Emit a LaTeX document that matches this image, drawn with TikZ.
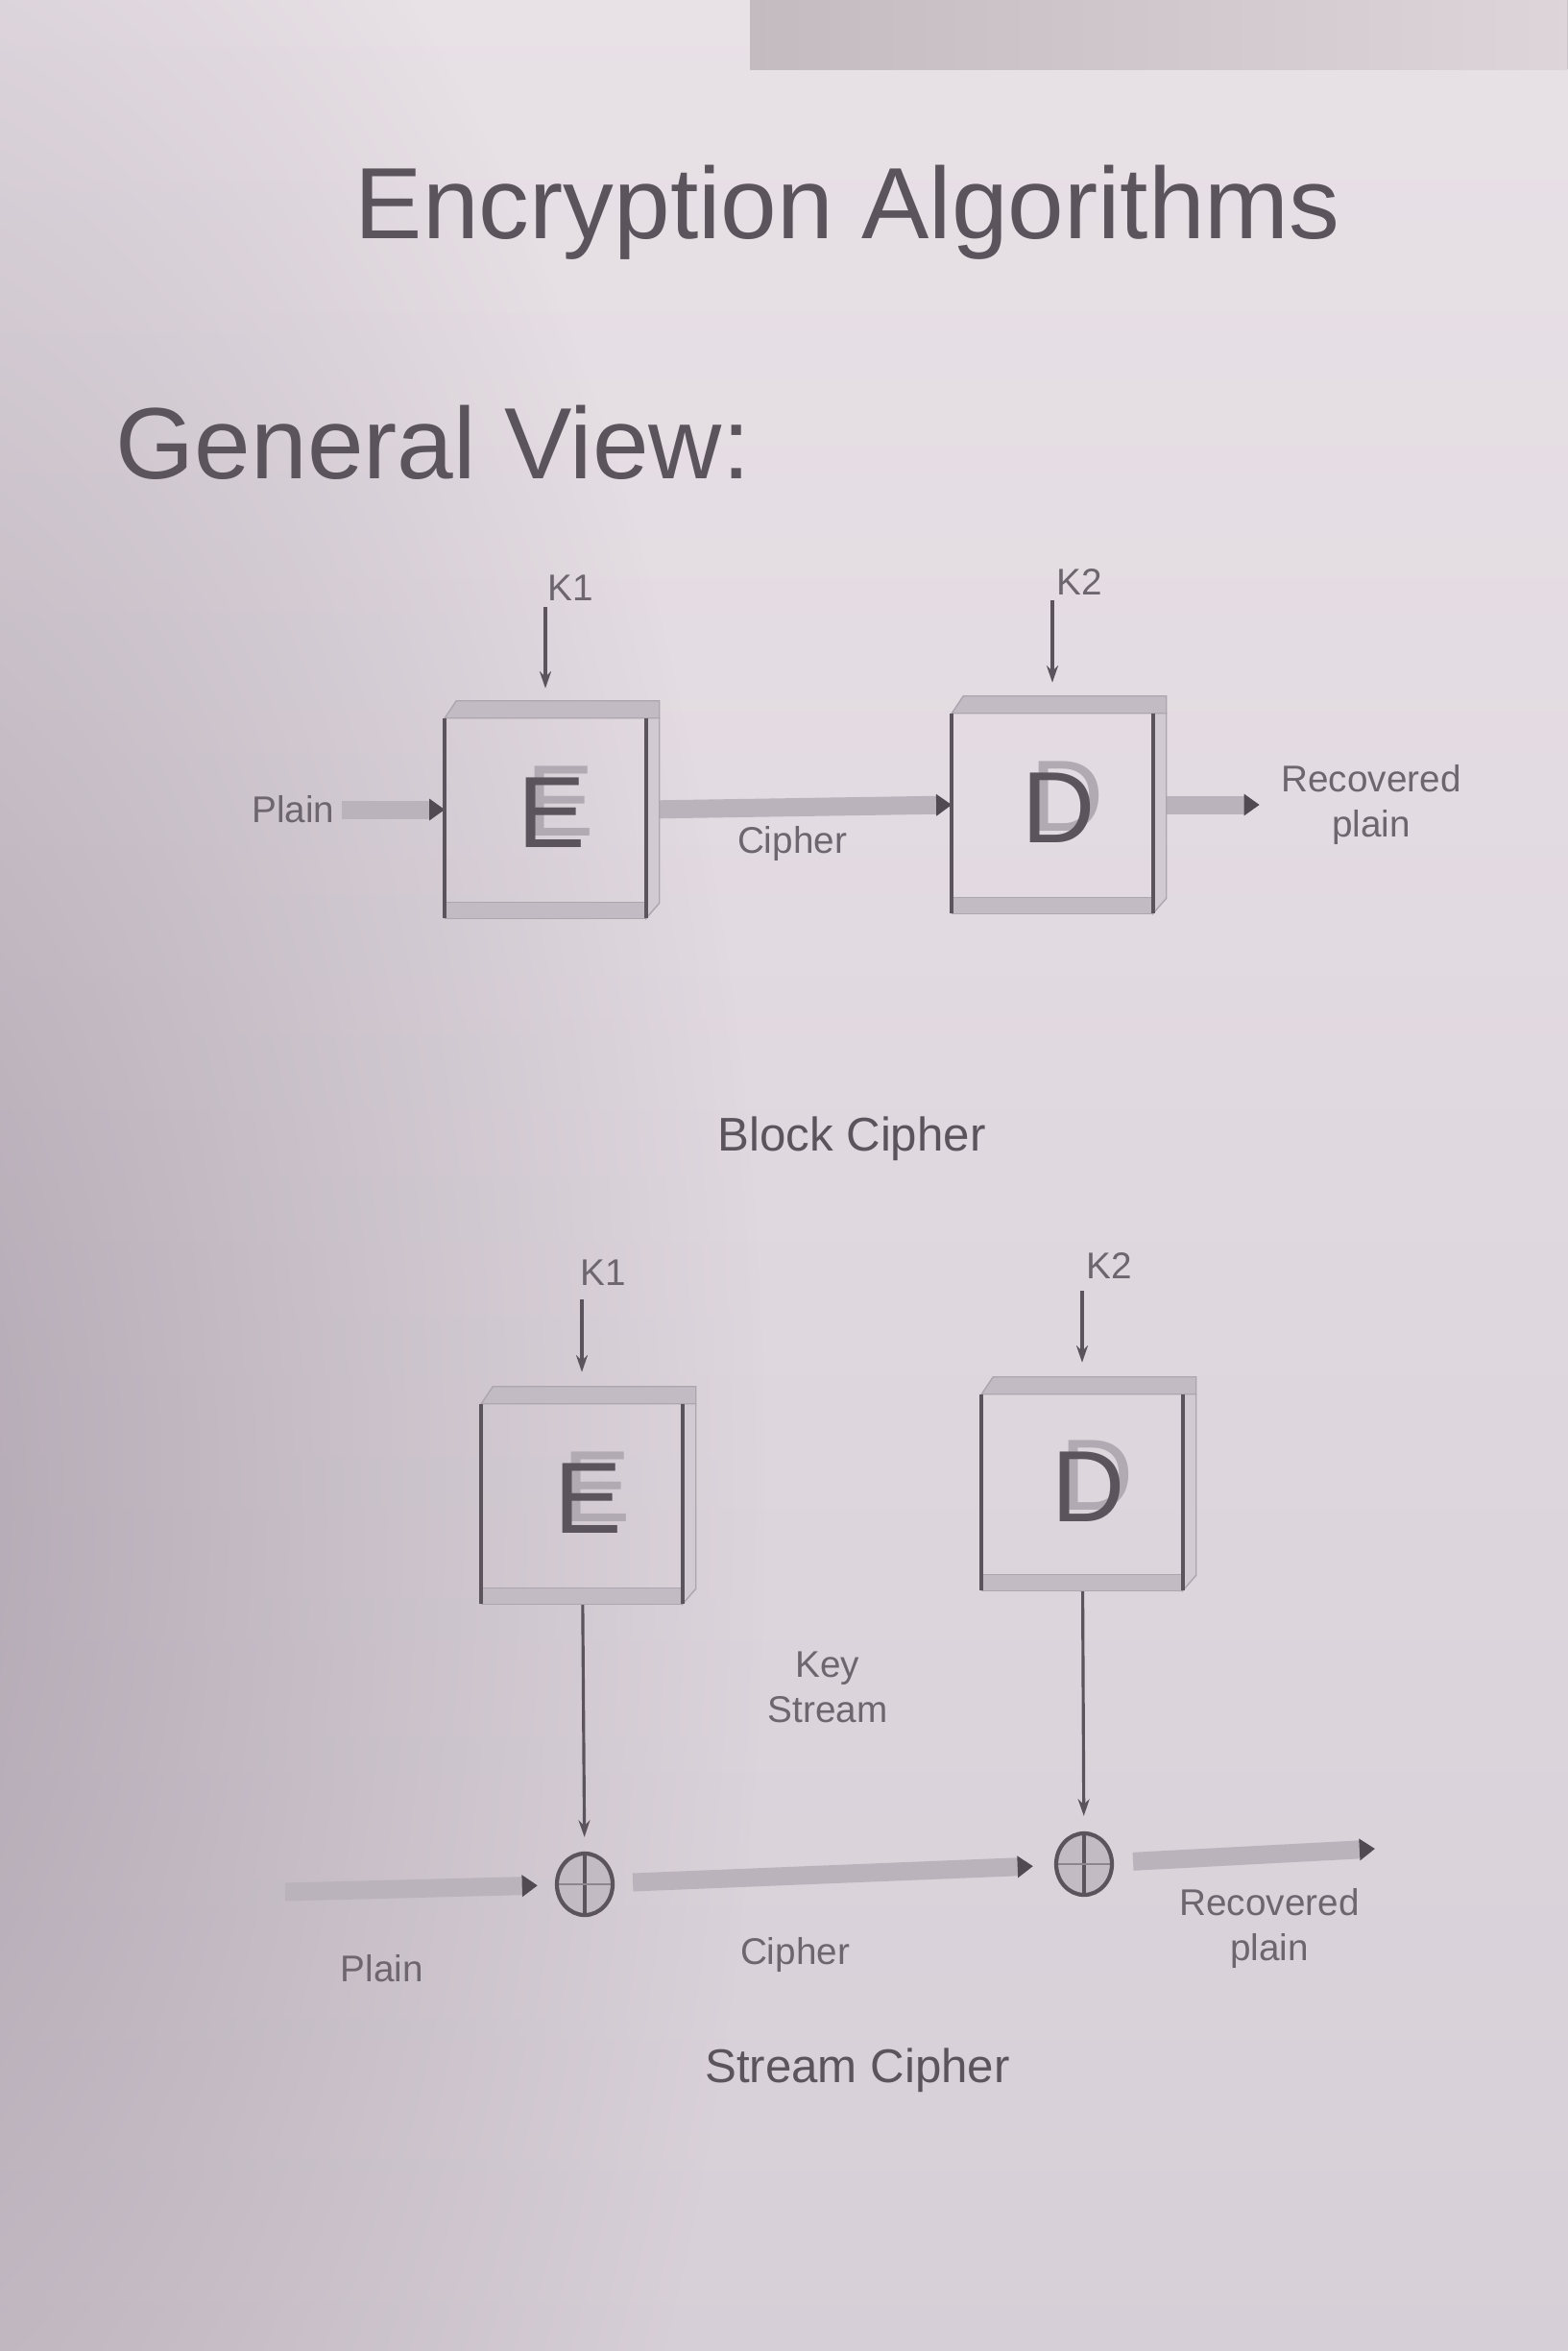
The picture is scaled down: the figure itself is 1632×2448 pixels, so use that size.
\documentclass[tikz,border=0pt]{standalone}
\usepackage{fontspec}
\setmainfont{Liberation Sans}
\usetikzlibrary{arrows.meta,calc,fadings}

% paper and ink colours
\definecolor{bgtop}{HTML}{E8E1E6}
\definecolor{bgbot}{HTML}{D7CFD7}
\definecolor{shadecol}{HTML}{9A8E9C}
\definecolor{tabL}{HTML}{C4BBC1}
\definecolor{tabR}{HTML}{DDD5DA}
\definecolor{ink}{HTML}{5C545C}
\definecolor{labelink}{HTML}{6E666E}
\definecolor{barcol}{HTML}{BBB3BB}
\definecolor{tipcol}{HTML}{524A52}
\definecolor{bandcol}{HTML}{C3BBC3}
\definecolor{sidecol}{HTML}{D2CAD2}
\definecolor{lettershade}{HTML}{B2AAB2}

\tikzfading[name=softblob, inner color=transparent!0, outer color=transparent!100]

\tikzset{
  heading/.style={font=\fontsize{30}{36}\selectfont, text=ink, inner sep=0pt},
  caption/.style={font=\fontsize{14}{17}\selectfont, text=ink},
  lbl/.style={font=\fontsize{11}{13.5}\selectfont, text=labelink, align=center, inner sep=2pt},
  cbox/.style={minimum width=2.08cm, minimum height=2.25cm, inner sep=0pt, draw=none},
  keyarrow/.style={draw=ink, line width=0.9pt, -{Stealth[length=5pt,width=3.4pt]}},
  bar/.style={draw=barcol, line width=5.4pt, -{Triangle[length=4.6pt,width=6.2pt,color=tipcol]}},
  xorgate/.style={ellipse, minimum width=0.58cm, minimum height=0.64cm, inner sep=0pt,
    draw=ink, line width=1.2pt, fill=bandcol,
    path picture={
      \draw[ink, line width=1.1pt] (path picture bounding box.north) -- (path picture bounding box.south);
      \draw[ink!70, line width=0.5pt] (path picture bounding box.west) -- (path picture bounding box.east);
    }},
  bigletter/.style={font=\fontsize{30}{36}\selectfont, inner sep=0pt},
}
\usetikzlibrary{shapes.geometric}

% bevelled frame drawn round a box node: top band, right side band, bottom band
\newcommand\cryptoframe[1]{%
  \fill[bandcol, draw=bandcol!80!ink, line width=0.4pt]
    ($(#1.north west)+(0,18)$) -- ($(#1.north west)+(12,0)$) --
    ($(#1.north east)+(14,0)$) -- ($(#1.north east)+(14,18)$) -- cycle;
  \fill[sidecol, draw=bandcol!80!ink, line width=0.4pt]
    ($(#1.north east)+(0,18)$) -- ($(#1.north east)+(14,18)$) --
    ($(#1.south east)+(14,-16)$) -- ($(#1.south east)+(0,0)$) -- cycle;
  \fill[bandcol, draw=bandcol!80!ink, line width=0.4pt]
    ($(#1.south west)+(0,-17)$) rectangle (#1.south east);
  \draw[ink, line width=1pt] ($(#1.north west)+(0,18)$) -- (#1.south west);
  \draw[ink, line width=1pt] ($(#1.north east)+(0,18)$) -- (#1.south east);
}
% extruded letter inside a box node
\newcommand\cryptoletter[2]{%
  \node[bigletter, text=lettershade] (#1-shade) at ($(#1)+(16,-9)$) {#2};
  \node[bigletter, text=ink] (#1-letter) at ($(#1)+(7,3)$) {#2};
}

\begin{document}
\begin{tikzpicture}[x=0.01cm, y=-0.01cm]
\useasboundingbox (0,0) rectangle (1632,2448);

% the sheet
\fill[bgbot] (0,0) rectangle (1632,2448);
\fill[top color=bgtop, bottom color=bgbot] (-20,-20) rectangle (1652,2468);
\begin{scope}
  \clip (0,0) rectangle (1632,2448);
  \fill[shadecol, fill opacity=0.7, path fading=softblob] (-200,1550) ellipse (1000 and 2000);
  \fill[left color=tabL, right color=tabR] (781,0) rectangle (1640,72);
\end{scope}

% headings
\node[heading, anchor=base west] (title) at (369,248) {Encryption Algorithms};
\node[heading, anchor=base west] (general) at (120,498) {General View:};

% ---------------- block cipher ----------------
\node[cbox] (E1) at (568,843) {};
\node[cbox] (D1) at (1096,838) {};

\node[lbl, anchor=west] (k1a) at (563,612) {K1};
\coordinate (k1atop) at (568,632);
\node[lbl, anchor=west] (k2a) at (1093,606) {K2};
\coordinate (k2atop) at (1096,625);
\draw[keyarrow, shorten >=0.13cm] (k1atop) -- (E1);
\draw[keyarrow, shorten >=0.14cm] (k2atop) -- (D1);

\node[lbl, anchor=east] (plain1) at (356,843) {Plain};
\node[lbl] (cipher1) at (825,878) {Cipher};
\node[lbl] (rec1) at (1428,838) {Recovered\\plain};

\draw[bar] (plain1.east) -- (E1.west);
\draw[bar] (E1.east) -- (D1.west);
\draw[bar, shorten >=0.15cm] (D1.east) -- (rec1.west |- D1.east);

\cryptoframe{E1}
\cryptoframe{D1}
\cryptoletter{E1}{E}
\cryptoletter{D1}{D}

\node[caption] (blockcap) at (887,1186) {Block Cipher};

% ---------------- stream cipher ----------------
\node[cbox] (E2) at (606,1557) {};
\node[cbox, minimum height=2.21cm] (D2) at (1127,1545) {};

\node[lbl, anchor=west] (k1b) at (597,1325) {K1};
\coordinate (k1btop) at (606,1353);
\node[lbl, anchor=west] (k2b) at (1124,1318) {K2};
\coordinate (k2btop) at (1127,1344);
\draw[keyarrow, shorten >=0.15cm] (k1btop) -- (E2);
\draw[keyarrow, shorten >=0.15cm] (k2btop) -- (D2);

\node[xorgate] (x1) at (609,1962) {};
\node[xorgate] (x2) at (1129,1941) {};

\draw[keyarrow, shorten >=0.15cm] (E2) -- (x1);
\draw[keyarrow, shorten >=0.16cm] (D2) -- (x2);

\node[lbl] (keystream) at (862,1757) {Key\\Stream};

\coordinate (p2start) at (297,1970);
\coordinate (out2end) at (1432,1925);
\draw[bar, shorten >=0.18cm] (p2start) -- (x1);
\draw[bar, shorten <=0.19cm, shorten >=0.22cm] (x1) -- (x2);
\draw[bar, shorten <=0.2cm] (x2) -- (out2end);

\cryptoframe{E2}
\cryptoframe{D2}
\cryptoletter{E2}{E}
\cryptoletter{D2}{D}

\node[lbl] (plain2) at (398,2050) {Plain};
\node[lbl] (cipher2) at (828,2035) {Cipher};
\node[lbl] (rec2) at (1322,2008) {Recovered\\plain};

\node[caption] (streamcap) at (893,2156) {Stream Cipher};
\end{tikzpicture}
\end{document}
